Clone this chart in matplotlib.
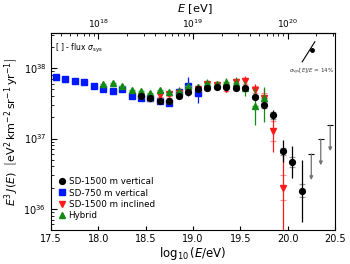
import numpy as np
import matplotlib.pyplot as plt

# log10(E^3 J), errors in decades
lg_vert = [18.45, 18.55, 18.65, 18.75, 18.85, 18.95, 19.05, 19.15, 19.25, 19.35,
           19.45, 19.55, 19.65, 19.75, 19.85, 19.95, 20.05, 20.15]
flux_vert = [37.60, 37.57, 37.54, 37.54, 37.61, 37.66, 37.70, 37.72, 37.73, 37.73,
             37.72, 37.72, 37.59, 37.47, 37.33, 36.82, 36.67, 36.26]
stat_vert = [0.01, 0.01, 0.01, 0.01, 0.01, 0.01, 0.015, 0.015, 0.02, 0.02,
             0.025, 0.03, 0.035, 0.05, 0.07, 0.16, 0.23, 0.44]
sys_vert = [0.03, 0.03, 0.03, 0.03, 0.03, 0.03, 0.03, 0.03, 0.03, 0.03,
            0.03, 0.03, 0.035, 0.04, 0.05, 0.05, 0.07, 0.09]

lg_ul = [20.25, 20.35, 20.45]
flux_ul = [36.78, 36.99, 37.19]

lg_750 = [17.55, 17.65, 17.75, 17.85, 17.95, 18.05, 18.15, 18.25, 18.35, 18.45,
          18.55, 18.65, 18.75, 18.85, 18.95, 19.05]
flux_750 = [37.87, 37.84, 37.82, 37.80, 37.75, 37.70, 37.68, 37.70, 37.61, 37.58,
            37.57, 37.53, 37.51, 37.66, 37.74, 37.64]
stat_750 = [0.01, 0.01, 0.01, 0.01, 0.01, 0.01, 0.01, 0.015, 0.015, 0.02,
            0.025, 0.03, 0.04, 0.07, 0.14, 0.13]
sys_750 = [0.035, 0.03, 0.03, 0.03, 0.03, 0.03, 0.03, 0.03, 0.03, 0.03,
           0.03, 0.03, 0.03, 0.03, 0.03, 0.03]

lg_incl = [18.65, 18.75, 18.85, 18.95, 19.05, 19.15, 19.25, 19.35, 19.45, 19.55,
           19.65, 19.75, 19.85, 19.95]
flux_incl = [37.62, 37.63, 37.64, 37.68, 37.71, 37.77, 37.76, 37.71, 37.80, 37.82,
             37.69, 37.58, 37.11, 36.30]
stat_incl_up = [0.03, 0.03, 0.03, 0.035, 0.035, 0.04, 0.04, 0.05, 0.06, 0.07,
                0.09, 0.12, 0.16, 0.46]
stat_incl_lo = [0.03, 0.03, 0.03, 0.035, 0.035, 0.04, 0.04, 0.05, 0.06, 0.07,
                0.09, 0.12, 0.30, 1.00]
sys_incl = [0.03, 0.03, 0.03, 0.03, 0.03, 0.03, 0.03, 0.04, 0.04, 0.04,
            0.05, 0.06, 0.14, 0.18]

lg_hyb = [18.05, 18.15, 18.25, 18.35, 18.45, 18.55, 18.65, 18.75, 18.85, 18.95,
          19.05, 19.15, 19.25, 19.35, 19.45, 19.55, 19.65, 19.75]
flux_hyb = [37.77, 37.79, 37.75, 37.69, 37.68, 37.64, 37.69, 37.66, 37.68, 37.75,
            37.73, 37.79, 37.77, 37.80, 37.79, 37.72, 37.46, 37.58]
stat_hyb_up = [0.025, 0.025, 0.025, 0.025, 0.03, 0.03, 0.035, 0.035, 0.04, 0.04,
               0.045, 0.05, 0.05, 0.06, 0.08, 0.1, 0.26, 0.15]
stat_hyb_lo = [0.025, 0.025, 0.025, 0.025, 0.03, 0.03, 0.035, 0.035, 0.04, 0.04,
               0.045, 0.05, 0.05, 0.06, 0.08, 0.12, 0.27, 0.35]

# energy-scale systematic marker
lg_escale = [20.154, 20.253, 20.288]
flux_escale = [38.09, 38.257, 38.376]


def draw(ax, x, lg, up, lo, sys, color, syscolor, marker, ms, label, z):
    x = np.array(x)
    y = 10 ** np.array(lg)
    yup = 10 ** (np.array(lg) + np.array(up)) - y
    ylo = y - 10 ** (np.array(lg) - np.array(lo))
    sup = 10 ** (np.array(lg) + np.array(sys)) - y
    slo = y - 10 ** (np.array(lg) - np.array(sys))
    ax.errorbar(x, y, yerr=[slo, sup], fmt='none', ecolor=syscolor,
                elinewidth=0, capsize=2.5, capthick=0.9, zorder=z - 1)
    ax.errorbar(x, y, yerr=[ylo, yup], fmt='none', ecolor=color,
                elinewidth=0.9, zorder=z)
    ax.plot(x, y, marker, color=color, ms=ms, ls='none', label=label, zorder=z + 1)


fig = plt.figure(figsize=(3.5, 2.64), dpi=100)
ax = fig.add_axes([0.146, 0.129, 0.811, 0.746])
plt.rcParams['mathtext.fontset'] = 'dejavusans'

draw(ax, lg_vert, flux_vert, stat_vert, stat_vert, sys_vert,
     'black', '#9a9a9a', 'o', 4.2, 'SD-1500 m vertical', 6)
draw(ax, lg_750, flux_750, stat_750, stat_750, sys_750,
     '#0018ff', '#8a96ff', 's', 4.0, 'SD-750 m vertical', 3)
draw(ax, lg_incl, flux_incl, stat_incl_up, stat_incl_lo, sys_incl,
     '#ff1a1a', '#ff9090', 'v', 4.0, 'SD-1500 m inclined', 4)
draw(ax, lg_hyb, flux_hyb, stat_hyb_up, stat_hyb_lo, [0] * len(lg_hyb),
     '#138a13', '#7fc07f', '^', 4.0, 'Hybrid', 5)

# upper limits
for x, lg in zip(lg_ul, flux_ul):
    ax.annotate('', xy=(x, 10 ** (lg - 0.37)), xytext=(x, 10 ** lg),
                arrowprops=dict(arrowstyle='-|>', color='#707070', lw=0.9,
                                mutation_scale=5, shrinkA=0, shrinkB=0))
    ax.plot([x], [10 ** lg], marker='_', color='black', ms=4, mew=0.8)

ax.plot(lg_escale[::2], 10 ** np.array(flux_escale[::2]), color='black', lw=0.8)
ax.plot(lg_escale[1], 10 ** flux_escale[1], 'o', color='black', ms=2.5)
ax.text(20.49, 10 ** 38.02, r'$\sigma_\mathrm{sys}[E]/E$ = 14%', fontsize=4,
        ha='right', va='top', color='#333333')
ax.text(0.015, 0.955, r'[ ] - flux $\sigma_\mathrm{sys}$', transform=ax.transAxes,
        fontsize=5.5, ha='left', va='top')

ax.set_yscale('log')
ax.set_xlim(17.5, 20.5)
ax.set_ylim(10 ** 35.7, 10 ** 38.5)
ax.set_xticks([17.5, 18.0, 18.5, 19.0, 19.5, 20.0, 20.5])
ax.set_xticklabels(['17.5', '18.0', '18.5', '19.0', '19.5', '20.0', '20.5'])
ax.set_yticks([1e36, 1e37, 1e38])
ax.tick_params(axis='both', which='both', direction='in', labelsize=7)
ax.tick_params(axis='y', which='major', length=4)
ax.tick_params(axis='y', which='minor', length=2)
ax.tick_params(axis='x', which='major', length=3, pad=3)
ax.set_xlabel(r'$\log_{10}(E/\mathrm{eV})$', fontsize=8.5, labelpad=1)
ax.set_ylabel(r'$E^3\,J(E)$  $\left[\mathrm{eV^2\,km^{-2}\,sr^{-1}\,yr^{-1}}\right]$',
              fontsize=8, labelpad=2)

top = ax.secondary_xaxis('top')
top.set_xticks([18, 19, 20])
top.set_xticklabels([r'$10^{18}$', r'$10^{19}$', r'$10^{20}$'])
minors = [np.log10(k * 10.0 ** n) for n in (17, 18, 19, 20) for k in range(2, 10)]
top.set_xticks([m for m in minors if 17.5 < m < 20.5], minor=True)
top.tick_params(axis='x', which='both', direction='in', labelsize=6.5, pad=2)
top.tick_params(axis='x', which='major', length=4)
top.tick_params(axis='x', which='minor', length=2)
fig.text(0.555, 0.993, r'$E$ [eV]', fontsize=8.2, ha='center', va='top')

ax.legend(loc='lower left', frameon=False, fontsize=6.3, handletextpad=0.1,
          handlelength=1.2, labelspacing=0.25, borderaxespad=0.3,
          bbox_to_anchor=(0.0, 0.02))

fig.savefig('out.png', dpi=100)
